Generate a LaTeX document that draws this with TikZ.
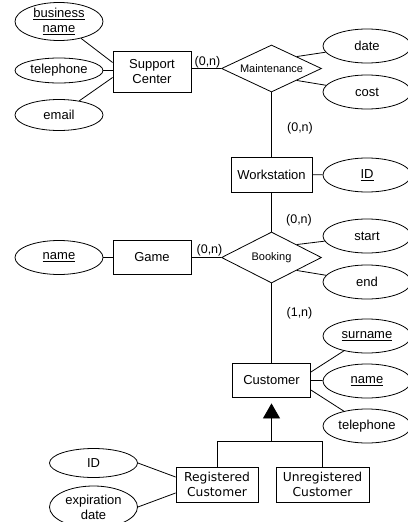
\documentclass[tikz,border=0pt]{standalone}
\usepackage{fontspec}
\setmainfont{Liberation Sans}
\newfontfamily\subfont{DejaVu Sans}
\usetikzlibrary{shapes.geometric,arrows.meta,calc}

\begin{document}
\begin{tikzpicture}[x=1pt,y=-1pt,line width=0.8pt,
  entity/.style={draw,rectangle,inner sep=0pt,align=center,
    font=\fontsize{13}{15}\selectfont},
  attr/.style={draw,ellipse,inner sep=0pt,minimum width=88pt,
    minimum height=34pt,align=center,font=\fontsize{13}{15}\selectfont},
  rel/.style={draw,diamond,shape aspect=2,inner sep=0pt,minimum width=100pt,
    minimum height=48pt,font=\fontsize{11}{13}\selectfont},
  card/.style={inner sep=0pt,font=\fontsize{12.5}{14}\selectfont},
  subent/.style={entity,font=\subfont\fontsize{12.3}{15.5}\selectfont}]

\fill[white] (0,0) rectangle (407,522);
\useasboundingbox (0,0) rectangle (407,522);

% Support center and its attributes
\node[entity,minimum width=78pt,minimum height=41pt] (sc) at (152,71.5) {Support\\Center};
\node[attr,minimum height=38pt] (bn) at (59,21.5) {\underline{business}\\\underline{name}};
\node[attr,minimum height=25pt] (sctel) at (59,70.5) {telephone};
\node[attr,minimum height=31pt] (email) at (59,115) {email};

% Maintenance relationship
\node[rel,minimum height=47pt] (maint) at (271.5,68.5) {Maintenance};
\node[attr] (date) at (367,46) {date};
\node[attr] (cost) at (367,92) {cost};

% Workstation
\node[entity,minimum width=81pt,minimum height=35pt] (ws) at (271.5,174.5) {Workstation};
\node[attr] (wsid) at (367,175) {\underline{ID}};

% Booking relationship
\node[rel,minimum height=51pt] (book) at (271.5,257.5) {Booking};
\node[attr] (start) at (367,236) {start};
\node[attr] (end) at (367,282) {end};

% Game
\node[entity,minimum width=78pt,minimum height=34pt] (game) at (152,257.5) {Game};
\node[attr] (gname) at (59,257.5) {\underline{name}};

% Customer
\node[entity,minimum width=78pt,minimum height=34pt] (cust) at (271.5,380) {Customer};
\node[attr] (surname) at (367,336) {\underline{surname}};
\node[attr] (cname) at (367,381) {\underline{name}};
\node[attr] (ctel) at (367,426) {telephone};

% Specialisations
\node[subent,minimum width=82pt,minimum height=35pt] (reg) at (217,484.5) {Registered\\Customer};
\node[subent,minimum width=93pt,minimum height=35pt] (unreg) at (322.5,484.5) {Unregistered\\Customer};
\node[attr,minimum height=29pt] (rid) at (93.5,463) {ID};
\node[attr,minimum height=42pt] (exp) at (93.5,507) {expiration\\date};

% Cardinalities
\node[card] (c1) at (207.5,62) {(0,n)};
\node[card] (c2) at (300,128) {(0,n)};
\node[card] (c3) at (299,220) {(0,n)};
\node[card] (c4) at (209.5,250) {(0,n)};
\node[card] (c5) at (299.5,313) {(1,n)};

% Attribute links
\draw ($(sc.west)+(0,-9)$) -- (bn);
\draw (sctel) -- (sctel -| sc.west);
\draw ($(sc.west)+(0,6)$) -- (email);
\draw (maint.north east) -- (date);
\draw (maint.south east) -- (cost);
\draw (ws) -- (wsid);
\draw (book.north east) -- (start);
\draw (book.south east) -- (end);
\draw (gname) -- (game);
\draw ($(cust.east)+(0,-8)$) -- (surname);
\draw (cust) -- (cname);
\draw ($(cust.east)+(0,10)$) -- (ctel);
\draw (rid.east) -- ($(reg.west)+(0,-7.5)$);
\draw (exp.east) -- ($(reg.west)+(0,8.5)$);

% Relationship links
\draw (sc.east |- maint.west) -- (maint.west);
\draw (maint) -- (ws);
\draw (ws) -- (book);
\draw (game) -- (book);
\draw (book) -- (cust);

% Generalisation
\coordinate (isa) at ($(cust.south)+(0,6)$);
\coordinate (bar) at ($(cust.south)+(0,44)$);
\draw (reg.north) |- (bar) -| (unreg.north);
\draw[-{Triangle[width=17pt,length=15pt]}] (bar) -- (isa);
\end{tikzpicture}
\end{document}
